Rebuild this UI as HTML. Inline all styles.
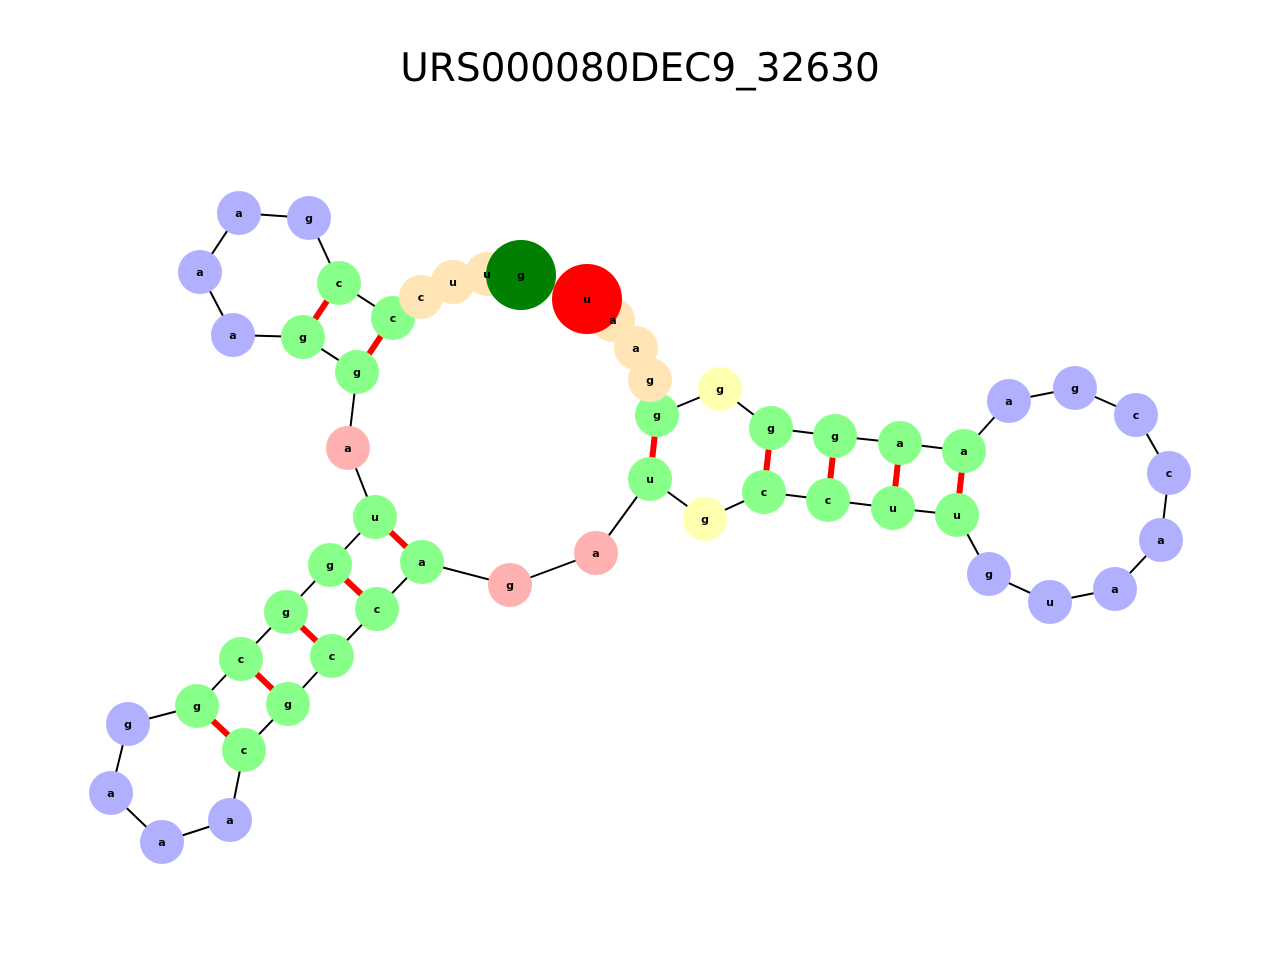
<!DOCTYPE html>
<html><head><meta charset="utf-8"><style>html,body{margin:0;padding:0;background:#fff}</style></head>
<body>
<svg width="1280" height="960" xmlns="http://www.w3.org/2000/svg" font-family="DejaVu Sans, Liberation Sans, sans-serif">
<rect width="1280" height="960" fill="#fff"/>
<text x="640" y="81" text-anchor="middle" font-size="39" fill="#000">URS000080DEC9_32630</text>
<g stroke="#000" stroke-width="2">
<line x1="239" y1="213" x2="309" y2="218"/>
<line x1="309" y1="218" x2="339" y2="283"/>
<line x1="339" y1="283" x2="393" y2="318"/>
<line x1="393" y1="318" x2="421" y2="297"/>
<line x1="650" y1="380" x2="657" y2="415"/>
<line x1="657" y1="415" x2="720" y2="389"/>
<line x1="720" y1="389" x2="771" y2="428"/>
<line x1="771" y1="428" x2="835" y2="436"/>
<line x1="835" y1="436" x2="900" y2="443"/>
<line x1="900" y1="443" x2="964" y2="451"/>
<line x1="964" y1="451" x2="1009" y2="401"/>
<line x1="1009" y1="401" x2="1075" y2="388"/>
<line x1="1075" y1="388" x2="1136" y2="415"/>
<line x1="1136" y1="415" x2="1169" y2="473"/>
<line x1="1169" y1="473" x2="1161" y2="540"/>
<line x1="1161" y1="540" x2="1115" y2="589"/>
<line x1="1115" y1="589" x2="1050" y2="602"/>
<line x1="1050" y1="602" x2="989" y2="574"/>
<line x1="989" y1="574" x2="957" y2="515"/>
<line x1="957" y1="515" x2="893" y2="508"/>
<line x1="893" y1="508" x2="828" y2="500"/>
<line x1="828" y1="500" x2="764" y2="492"/>
<line x1="764" y1="492" x2="705" y2="519"/>
<line x1="705" y1="519" x2="650" y2="479"/>
<line x1="650" y1="479" x2="596" y2="553"/>
<line x1="596" y1="553" x2="510" y2="585"/>
<line x1="510" y1="585" x2="422" y2="562"/>
<line x1="422" y1="562" x2="377" y2="609"/>
<line x1="377" y1="609" x2="332" y2="656"/>
<line x1="332" y1="656" x2="288" y2="704"/>
<line x1="288" y1="704" x2="244" y2="750"/>
<line x1="244" y1="750" x2="230" y2="820"/>
<line x1="230" y1="820" x2="162" y2="842"/>
<line x1="162" y1="842" x2="111" y2="793"/>
<line x1="111" y1="793" x2="128" y2="724"/>
<line x1="128" y1="724" x2="197" y2="706"/>
<line x1="197" y1="706" x2="241" y2="659"/>
<line x1="241" y1="659" x2="286" y2="612"/>
<line x1="286" y1="612" x2="330" y2="565"/>
<line x1="330" y1="565" x2="375" y2="517"/>
<line x1="375" y1="517" x2="348" y2="448"/>
<line x1="348" y1="448" x2="357" y2="372"/>
<line x1="357" y1="372" x2="303" y2="337"/>
<line x1="303" y1="337" x2="233" y2="335"/>
<line x1="233" y1="335" x2="200" y2="272"/>
<line x1="200" y1="272" x2="239" y2="213"/>
</g>
<g stroke="#f00" stroke-width="6">
<line x1="339" y1="283" x2="303" y2="337"/>
<line x1="393" y1="318" x2="357" y2="372"/>
<line x1="657" y1="415" x2="650" y2="479"/>
<line x1="771" y1="428" x2="764" y2="492"/>
<line x1="835" y1="436" x2="828" y2="500"/>
<line x1="900" y1="443" x2="893" y2="508"/>
<line x1="964" y1="451" x2="957" y2="515"/>
<line x1="375" y1="517" x2="422" y2="562"/>
<line x1="330" y1="565" x2="377" y2="609"/>
<line x1="286" y1="612" x2="332" y2="656"/>
<line x1="241" y1="659" x2="288" y2="704"/>
<line x1="197" y1="706" x2="244" y2="750"/>
</g>
<g fill="#b0b0ff">
<circle cx="239" cy="213" r="22"/><circle cx="309" cy="218" r="22"/><circle cx="233" cy="335" r="22"/><circle cx="200" cy="272" r="22"/>
<circle cx="1009" cy="401" r="22"/><circle cx="1075" cy="388" r="22"/><circle cx="1136" cy="415" r="22"/><circle cx="1169" cy="473" r="22"/><circle cx="1161" cy="540" r="22"/><circle cx="1115" cy="589" r="22"/><circle cx="1050" cy="602" r="22"/><circle cx="989" cy="574" r="22"/>
<circle cx="230" cy="820" r="22"/><circle cx="162" cy="842" r="22"/><circle cx="111" cy="793" r="22"/><circle cx="128" cy="724" r="22"/>
</g>
<g fill="#88ff88">
<circle cx="339" cy="283" r="22"/><circle cx="393" cy="318" r="22"/><circle cx="357" cy="372" r="22"/><circle cx="303" cy="337" r="22"/>
<circle cx="657" cy="415" r="22"/><circle cx="650" cy="479" r="22"/><circle cx="771" cy="428" r="22"/><circle cx="764" cy="492" r="22"/><circle cx="835" cy="436" r="22"/><circle cx="828" cy="500" r="22"/><circle cx="900" cy="443" r="22"/><circle cx="893" cy="508" r="22"/><circle cx="964" cy="451" r="22"/><circle cx="957" cy="515" r="22"/>
<circle cx="375" cy="517" r="22"/><circle cx="422" cy="562" r="22"/><circle cx="330" cy="565" r="22"/><circle cx="377" cy="609" r="22"/><circle cx="286" cy="612" r="22"/><circle cx="332" cy="656" r="22"/><circle cx="241" cy="659" r="22"/><circle cx="288" cy="704" r="22"/><circle cx="197" cy="706" r="22"/><circle cx="244" cy="750" r="22"/>
</g>
<g fill="#ffb0b0"><circle cx="348" cy="448" r="22"/><circle cx="510" cy="585" r="22"/><circle cx="596" cy="553" r="22"/></g>
<g fill="#ffffb0"><circle cx="720" cy="389" r="22"/><circle cx="705" cy="519" r="22"/></g>
<g fill="#ffe4b5">
<circle cx="421" cy="297" r="22"/><circle cx="453" cy="282" r="22"/><circle cx="487" cy="274" r="22"/>
<circle cx="650" cy="380" r="22"/><circle cx="636" cy="348" r="22"/><circle cx="613" cy="320" r="22"/>
</g>
<circle cx="521" cy="275" r="35" fill="#008000"/>
<circle cx="587" cy="299" r="35" fill="#f00"/>
<g fill="#000" font-size="11" font-weight="bold" text-anchor="middle" transform="translate(0,4)">
<text x="239" y="213">a</text><text x="309" y="218">g</text><text x="233" y="335">a</text><text x="200" y="272">a</text>
<text x="1009" y="401">a</text><text x="1075" y="388">g</text><text x="1136" y="415">c</text><text x="1169" y="473">c</text><text x="1161" y="540">a</text><text x="1115" y="589">a</text><text x="1050" y="602">u</text><text x="989" y="574">g</text>
<text x="230" y="820">a</text><text x="162" y="842">a</text><text x="111" y="793">a</text><text x="128" y="724">g</text>
<text x="339" y="283">c</text><text x="393" y="318">c</text><text x="357" y="372">g</text><text x="303" y="337">g</text>
<text x="657" y="415">g</text><text x="650" y="479">u</text><text x="771" y="428">g</text><text x="764" y="492">c</text><text x="835" y="436">g</text><text x="828" y="500">c</text><text x="900" y="443">a</text><text x="893" y="508">u</text><text x="964" y="451">a</text><text x="957" y="515">u</text>
<text x="375" y="517">u</text><text x="422" y="562">a</text><text x="330" y="565">g</text><text x="377" y="609">c</text><text x="286" y="612">g</text><text x="332" y="656">c</text><text x="241" y="659">c</text><text x="288" y="704">g</text><text x="197" y="706">g</text><text x="244" y="750">c</text>
<text x="348" y="448">a</text><text x="510" y="585">g</text><text x="596" y="553">a</text>
<text x="720" y="389">g</text><text x="705" y="519">g</text>
<text x="421" y="297">c</text><text x="453" y="282">u</text><text x="487" y="274">u</text>
<text x="650" y="380">g</text><text x="636" y="348">a</text><text x="613" y="320">a</text>
<text x="521" y="275">g</text><text x="587" y="299">u</text>
</g>
</svg>
</body></html>
